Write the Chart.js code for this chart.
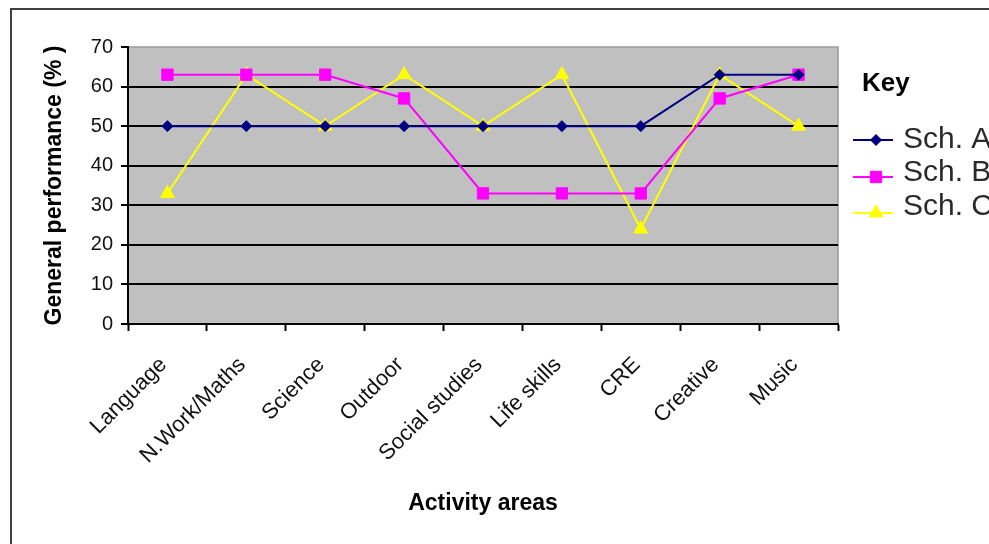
<!DOCTYPE html>
<html>
<head>
<meta charset="utf-8">
<script src="https://cdn.jsdelivr.net/npm/chart.js@4/dist/chart.umd.min.js"></script>
<style>
  html, body { margin: 0; padding: 0; background: #ffffff; }
  #wrap { width: 989px; height: 544px; position: relative; }
</style>
</head>
<body>
<div id="wrap"><canvas id="chart" width="989" height="544"></canvas></div>
<script>
// Activity areas on the horizontal axis
const categories = ['Language', 'N.Work/Maths', 'Science', 'Outdoor', 'Social studies', 'Life skills', 'CRE', 'Creative', 'Music'];

// General performance (%) per school
const schoolA = [50, 50, 50, 50, 50, 50, 50, 63, 63];
const schoolB = [63, 63, 63, 57, 33, 33, 33, 57, 63];
const schoolC = [33, 63, 50, 63, 50, 63, 24, 63, 50];

const seriesNames = ['Sch. A', 'Sch. B', 'Sch. C'];
const yTicks = [0, 10, 20, 30, 40, 50, 60, 70];

const FONT = "'Liberation Sans', Arial, sans-serif";

const styles = [
  { color: '#000080', point: 'rectRot', radius: 5.5 },
  { color: '#FF00FF', point: 'rect', radius: 8 },
  { color: '#FFFF00', point: 'triangle', radius: 8 }
];

// Grey plot area, its border and the outer frame of the figure
const framePlugin = {
  id: 'frame',
  beforeDraw(chart) {
    const { ctx, chartArea: a } = chart;
    ctx.save();
    ctx.fillStyle = '#ffffff';
    ctx.fillRect(0, 0, chart.width, chart.height);
    ctx.fillStyle = '#C0C0C0';
    ctx.fillRect(a.left, a.top, a.right - a.left, a.bottom - a.top);
    ctx.strokeStyle = '#9a9a9a';
    ctx.lineWidth = 1.5;
    ctx.strokeRect(a.left, a.top, a.right - a.left, a.bottom - a.top);
    ctx.strokeStyle = '#404040';
    ctx.lineWidth = 2;
    ctx.strokeRect(11, 9, 1000, 560);
    ctx.restore();
  }
};

// "Key" box at the right, built from the datasets
const keyPlugin = {
  id: 'key',
  afterDraw(chart) {
    const { ctx } = chart;
    ctx.save();
    ctx.fillStyle = '#000';
    ctx.font = "bold 26px " + FONT;
    ctx.textBaseline = 'alphabetic';
    ctx.textAlign = 'left';
    ctx.fillText('Key', 862, 91);
    const lineY = [140, 177, 213];
    const textY = [140, 173, 207];
    chart.data.datasets.forEach((ds, i) => {
      const y = lineY[i];
      ctx.strokeStyle = ds.borderColor;
      ctx.lineWidth = 2;
      ctx.beginPath();
      ctx.moveTo(853, y);
      ctx.lineTo(893, y);
      ctx.stroke();
      ctx.fillStyle = ds.pointBackgroundColor;
      ctx.strokeStyle = ds.pointBorderColor;
      ctx.lineWidth = 1;
      Chart.helpers.drawPoint(ctx, { pointStyle: ds.pointStyle, radius: ds.pointRadius, borderWidth: 1 }, 876, y);
      ctx.fillStyle = '#2a2a2a';
      ctx.font = "30px " + FONT;
      ctx.textBaseline = 'middle';
      ctx.fillText(ds.label, 903, textY[i]);
    });
    ctx.restore();
  }
};

const datasets = [schoolA, schoolB, schoolC].map((vals, i) => ({
  label: seriesNames[i],
  data: vals,
  borderColor: styles[i].color,
  backgroundColor: styles[i].color,
  pointBackgroundColor: styles[i].color,
  pointBorderColor: styles[i].color,
  pointStyle: styles[i].point,
  pointRadius: styles[i].radius,
  pointBorderWidth: 1,
  borderWidth: 2,
  tension: 0,
  fill: false
}));

new Chart(document.getElementById('chart'), {
  type: 'line',
  data: { labels: categories, datasets },
  options: {
    responsive: false,
    animation: false,
    layout: { padding: { top: 47, right: 151, left: 0, bottom: 0 } },
    plugins: {
      legend: { display: false },
      tooltip: { enabled: false },
      title: { display: false }
    },
    scales: {
      x: {
        type: 'category',
        offset: true,
        grid: {
          offset: true,
          drawOnChartArea: false,
          drawTicks: true,
          tickLength: 7,
          tickColor: '#000',
          tickWidth: 2
        },
        border: { display: true, color: '#000', width: 2 },
        ticks: {
          autoSkip: false,
          maxRotation: 45,
          minRotation: 45,
          padding: 21,
          labelOffset: -4,
          color: '#111',
          font: { family: FONT, size: 22 }
        },
        title: {
          display: true,
          text: 'Activity areas',
          color: '#000',
          font: { family: FONT, size: 23, weight: 'bold' },
          padding: { top: 0, bottom: 27 }
        },
        afterFit(scale) { scale.height = 220; }
      },
      y: {
        min: 0,
        max: 70,
        afterBuildTicks(scale) { scale.ticks = yTicks.map(v => ({ value: v })); },
        grid: {
          color: (c) => (c.tick && c.tick.value === 70 ? 'rgba(0,0,0,0)' : '#000'),
          lineWidth: 2,
          drawTicks: true,
          tickLength: 7,
          tickColor: '#000',
          tickWidth: 2
        },
        border: { display: true, color: '#000', width: 2 },
        ticks: {
          padding: 8,
          color: '#111',
          font: { family: FONT, size: 20 }
        },
        title: {
          display: true,
          text: 'General performance (% )',
          color: '#000',
          font: { family: FONT, size: 23, weight: 'bold' },
          padding: { top: 41, bottom: 0 }
        },
        afterFit(scale) { scale.width = 128; }
      }
    }
  },
  plugins: [framePlugin, keyPlugin]
});
</script>
</body>
</html>
